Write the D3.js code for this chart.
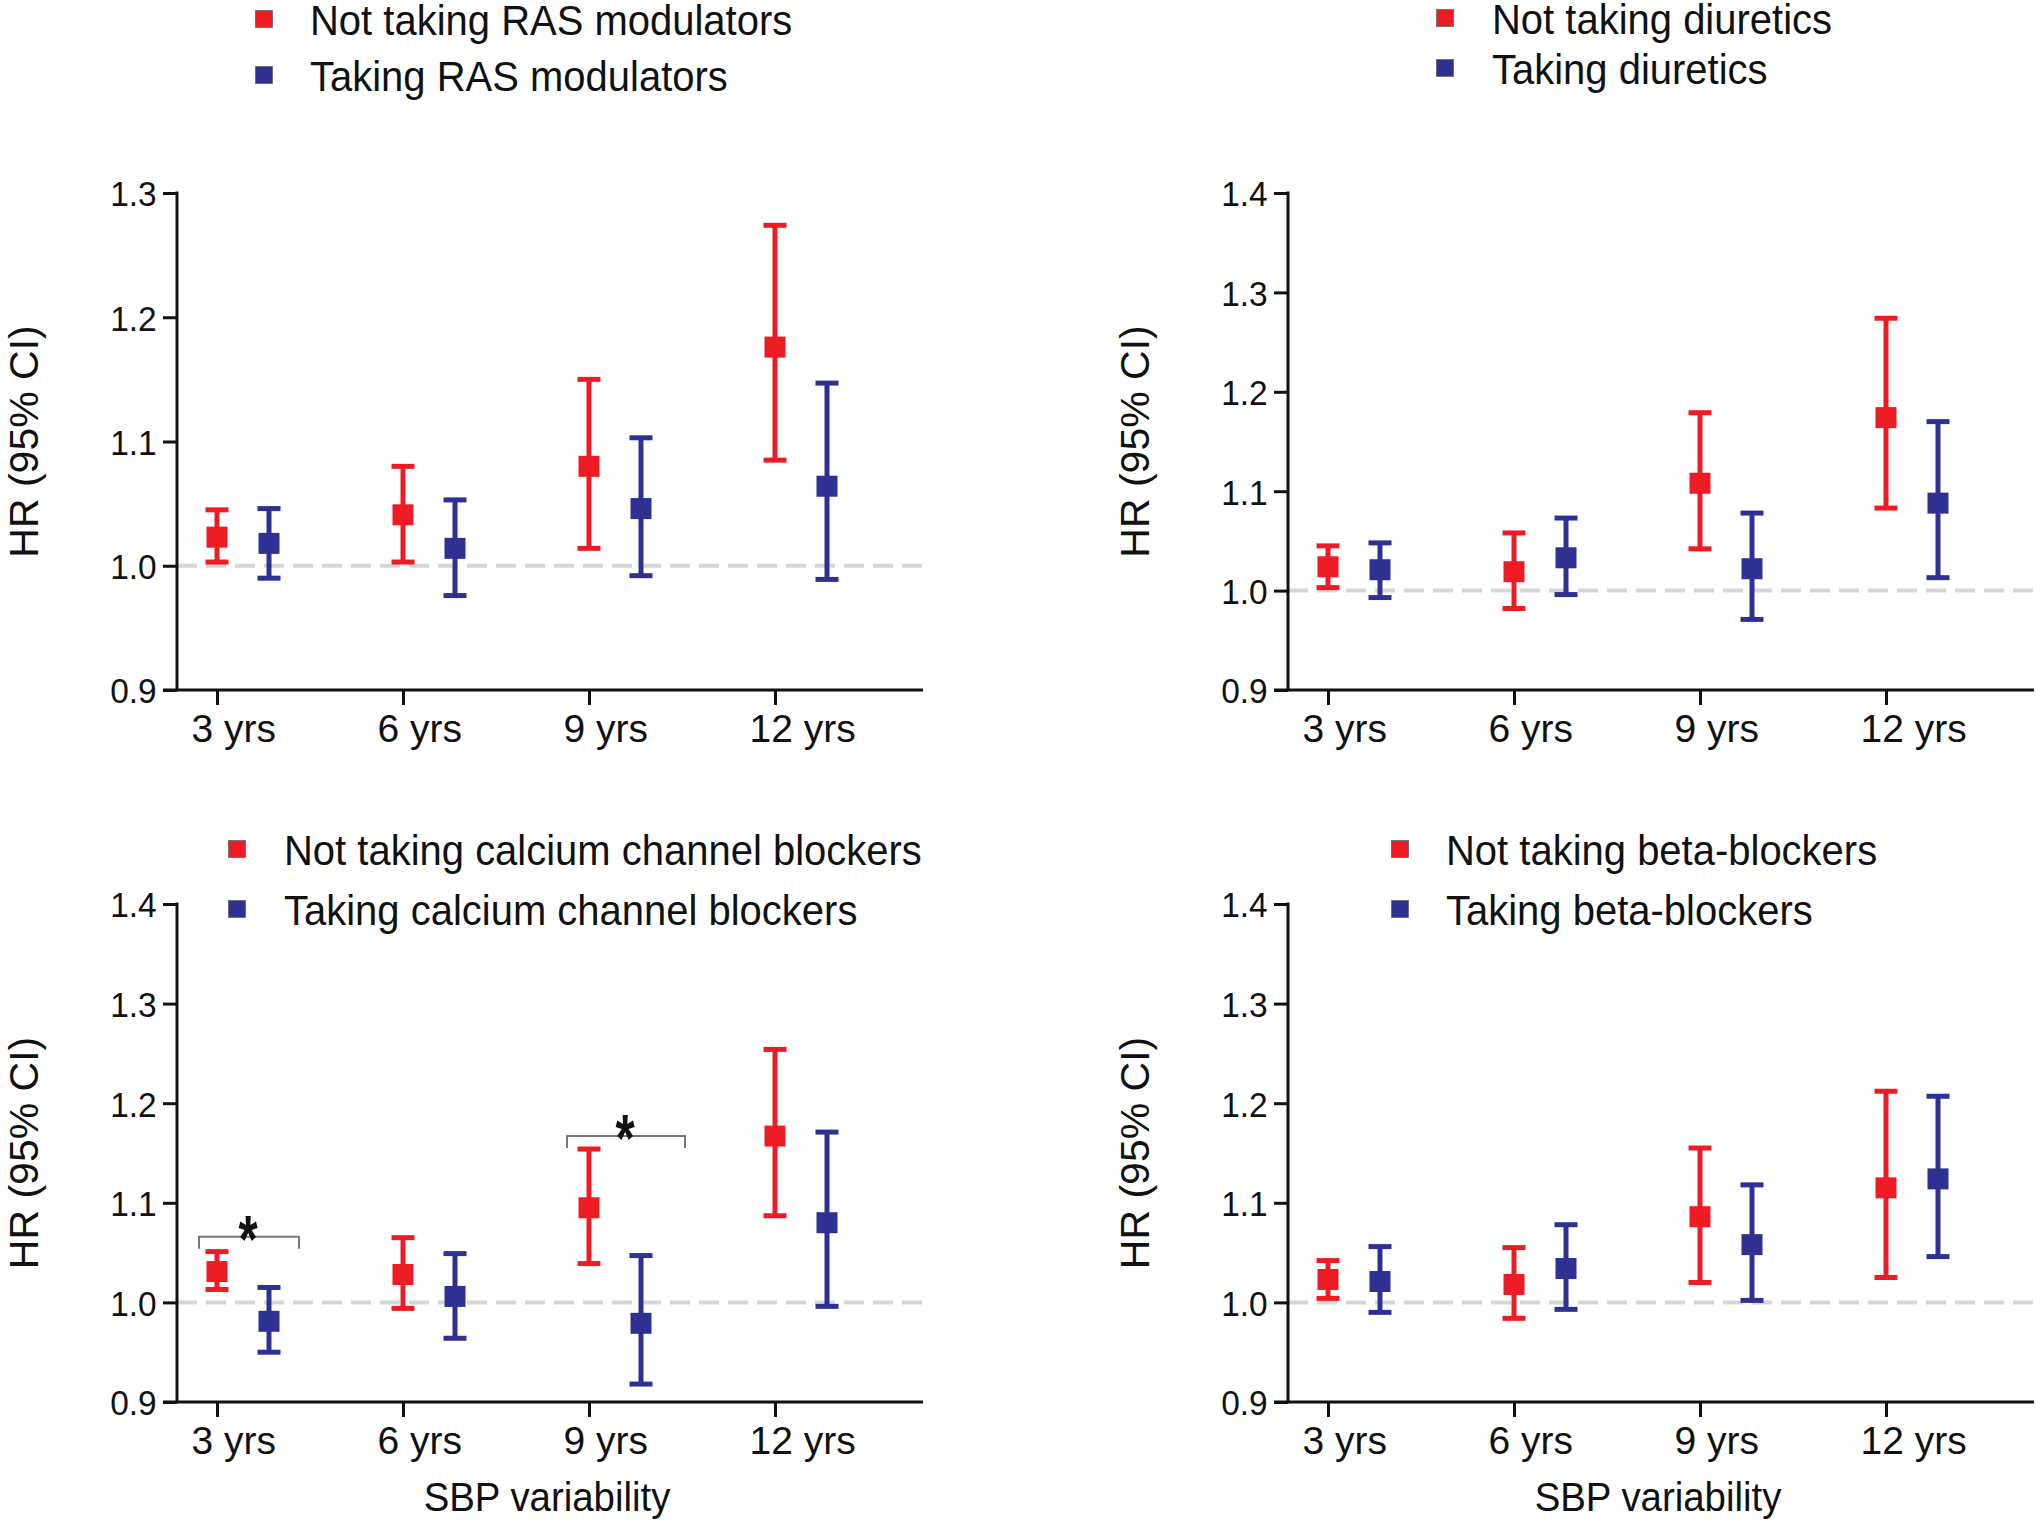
<!DOCTYPE html>
<html>
<head>
<meta charset="utf-8">
<script src="https://cdn.jsdelivr.net/npm/d3@7"></script>
<style>
  html, body { margin: 0; padding: 0; background: #fff; }
  svg { display: block; }
  text { font-family: "Liberation Sans", Arial, sans-serif; fill: #111; }
</style>
</head>
<body>
<svg id="chart" width="2040" height="1523"></svg>
<script>
// ---------------- DATA ----------------
const categories = ["3 yrs", "6 yrs", "9 yrs", "12 yrs"];
const ticksRAS = [0.9, 1.0, 1.1, 1.2, 1.3];
const ticksOther = [0.9, 1.0, 1.1, 1.2, 1.3, 1.4];

// each entry: [HR, lower 95% CI, upper 95% CI]
const rasNot  = [[1.023, 1.003, 1.045], [1.041, 1.003, 1.080], [1.080, 1.014, 1.150], [1.176, 1.085, 1.274]];
const rasTake = [[1.018, 0.990, 1.046], [1.014, 0.976, 1.053], [1.046, 0.992, 1.103], [1.064, 0.989, 1.147]];

const diurNot  = [[1.024, 1.003, 1.045], [1.019, 0.982, 1.058], [1.108, 1.042, 1.179], [1.174, 1.083, 1.274]];
const diurTake = [[1.021, 0.993, 1.048], [1.033, 0.996, 1.073], [1.022, 0.971, 1.078], [1.088, 1.013, 1.170]];

const ccbNot  = [[1.031, 1.013, 1.051], [1.028, 0.994, 1.065], [1.095, 1.039, 1.154], [1.167, 1.087, 1.254]];
const ccbTake = [[0.981, 0.950, 1.015], [1.006, 0.964, 1.049], [0.979, 0.918, 1.047], [1.080, 0.996, 1.171]];

const bbNot  = [[1.023, 1.004, 1.042], [1.018, 0.984, 1.055], [1.086, 1.020, 1.155], [1.115, 1.025, 1.212]];
const bbTake = [[1.021, 0.990, 1.056], [1.034, 0.993, 1.078], [1.058, 1.002, 1.118], [1.124, 1.046, 1.207]];

const rasLabels  = ["Not taking RAS modulators", "Taking RAS modulators"];
const diurLabels = ["Not taking diuretics", "Taking diuretics"];
const ccbLabels  = ["Not taking calcium channel blockers", "Taking calcium channel blockers"];
const bbLabels   = ["Not taking beta-blockers", "Taking beta-blockers"];

// significance brackets (category, HR level of bracket)
const ccbBrackets = [["3 yrs", 1.066], ["9 yrs", 1.167]];

const yTitle = "HR (95% CI)";
const xTitle = "SBP variability";

// ---------------- STYLE / LAYOUT ----------------
const RED = "#ED1C24", BLUE = "#2E3192";
const panels = [
  { ox: 177,  top: 193, bottom: 690,  domain: [0.9, 1.3], ticks: ticksRAS,   not: rasNot,  take: rasTake,  labels: rasLabels,
    lgX: 264,  lgY: [19, 75],   lgTX: 310,  showX: false, brackets: [] },
  { ox: 1288, top: 193, bottom: 690,  domain: [0.9, 1.4], ticks: ticksOther, not: diurNot, take: diurTake, labels: diurLabels,
    lgX: 1445, lgY: [18, 68],   lgTX: 1492, showX: false, brackets: [] },
  { ox: 177,  top: 904, bottom: 1402, domain: [0.9, 1.4], ticks: ticksOther, not: ccbNot,  take: ccbTake,  labels: ccbLabels,
    lgX: 237,  lgY: [849, 909], lgTX: 284,  showX: true,  brackets: ccbBrackets },
  { ox: 1288, top: 904, bottom: 1402, domain: [0.9, 1.4], ticks: ticksOther, not: bbNot,   take: bbTake,   labels: bbLabels,
    lgX: 1400, lgY: [849, 909], lgTX: 1446, showX: true,  brackets: [] }
];
const AXIS_W = 746;
const BLUE_OFF = 52;
const MARK = 21, CAP = 23, BAR_W = 5;

const svg = d3.select("#chart");

panels.forEach(p => {
  const g = svg.append("g");
  const y = d3.scaleLinear().domain(p.domain).range([p.bottom, p.top]);
  const x = d3.scalePoint().domain(categories).range([p.ox + 40, p.ox + 598]);

  // reference line at HR = 1
  g.append("line")
    .attr("x1", p.ox).attr("x2", p.ox + AXIS_W)
    .attr("y1", y(1.0)).attr("y2", y(1.0))
    .attr("stroke", "#d6d6d6").attr("stroke-width", 4)
    .attr("stroke-dasharray", "20,9");

  // y axis
  const ya = g.append("g").attr("transform", `translate(${p.ox},0)`)
    .call(d3.axisLeft(y).tickValues(p.ticks).tickFormat(d3.format(".1f"))
      .tickSize(14).tickSizeOuter(0).tickPadding(5));
  ya.select(".domain").remove();
  ya.selectAll(".tick line").attr("stroke", "#111").attr("stroke-width", 3);
  ya.selectAll(".tick text").style("font-size", "36px").attr("fill", "#111")
    .attr("dy", "0.36em")
    .attr("transform", `translate(${-19 * 0.07},0) scale(0.93,1)`)
    .attr("x", -19 / 0.93);

  g.append("line").attr("x1", p.ox).attr("x2", p.ox)
    .attr("y1", p.top - 1.5).attr("y2", p.bottom)
    .attr("stroke", "#111").attr("stroke-width", 3);

  // x axis
  const xa = g.append("g").attr("transform", `translate(0,${p.bottom})`)
    .call(d3.axisBottom(x).tickSize(15).tickSizeOuter(0).tickPadding(9));
  xa.select(".domain").remove();
  xa.selectAll(".tick line").attr("stroke", "#111").attr("stroke-width", 3);
  xa.selectAll(".tick text").style("font-size", "39px").attr("fill", "#111")
    .attr("text-anchor", "start").attr("dx", -26);
  g.append("line").attr("x1", p.ox - 14).attr("x2", p.ox + AXIS_W)
    .attr("y1", p.bottom).attr("y2", p.bottom)
    .attr("stroke", "#111").attr("stroke-width", 3);

  // y title
  g.append("text")
    .attr("transform", `translate(${p.ox - 139},${(p.top + p.bottom) / 2}) rotate(-90)`)
    .attr("text-anchor", "middle").style("font-size", "41px").text(yTitle);

  // x title
  if (p.showX) {
    g.append("text").attr("transform", `translate(${p.ox + 370},${p.bottom + 109}) scale(0.96,1)`)
      .attr("text-anchor", "middle").style("font-size", "40px").text(xTitle);
  }

  // error bars + markers
  const series = [{ d: p.not, c: RED, off: 0 }, { d: p.take, c: BLUE, off: BLUE_OFF }];
  series.forEach(s => {
    const sg = g.append("g");
    const items = categories.map((c, i) => ({ c, hr: s.d[i][0], lo: s.d[i][1], hi: s.d[i][2] }));
    const eg = sg.selectAll("g.eb").data(items).join("g").attr("class", "eb");
    eg.append("line").attr("x1", d => x(d.c) + s.off).attr("x2", d => x(d.c) + s.off)
      .attr("y1", d => y(d.lo)).attr("y2", d => y(d.hi))
      .attr("stroke", s.c).attr("stroke-width", BAR_W);
    eg.append("line").attr("x1", d => x(d.c) + s.off - CAP / 2).attr("x2", d => x(d.c) + s.off + CAP / 2)
      .attr("y1", d => y(d.hi)).attr("y2", d => y(d.hi))
      .attr("stroke", s.c).attr("stroke-width", BAR_W);
    eg.append("line").attr("x1", d => x(d.c) + s.off - CAP / 2).attr("x2", d => x(d.c) + s.off + CAP / 2)
      .attr("y1", d => y(d.lo)).attr("y2", d => y(d.lo))
      .attr("stroke", s.c).attr("stroke-width", BAR_W);
    eg.append("rect").attr("x", d => x(d.c) + s.off - MARK / 2).attr("y", d => y(d.hr) - MARK / 2)
      .attr("width", MARK).attr("height", MARK).attr("fill", s.c);
  });

  // brackets
  p.brackets.forEach(([cat, lvl], i) => {
    const x1 = x(cat) - (i === 0 ? 18 : 22), x2 = x(cat) + BLUE_OFF + (i === 0 ? 30 : 44);
    const yy = y(lvl);
    g.append("path")
      .attr("d", `M${x1},${yy + 12}V${yy}H${x2}V${yy + 12}`)
      .attr("fill", "none").attr("stroke", "#777").attr("stroke-width", 2);
    g.append("text")
      .attr("transform", `translate(${(x1 + x2) / 2 - 1},${yy + 25}) scale(0.85,1.15)`)
      .attr("text-anchor", "middle").style("font-size", "58px").style("font-weight", "bold").text("*");
  });

  // legend
  p.labels.forEach((lab, i) => {
    const cy = p.lgY[i];
    g.append("rect").attr("x", p.lgX - 8.5).attr("y", cy - 8.5).attr("width", 17).attr("height", 17)
      .attr("fill", i === 0 ? RED : BLUE).attr("stroke", "#666").attr("stroke-width", 0.8);
    g.append("text").attr("transform", `translate(${p.lgTX},${cy + 15.5}) scale(0.93,1)`)
      .style("font-size", "43px").text(lab);
  });
});
</script>
</body>
</html>
